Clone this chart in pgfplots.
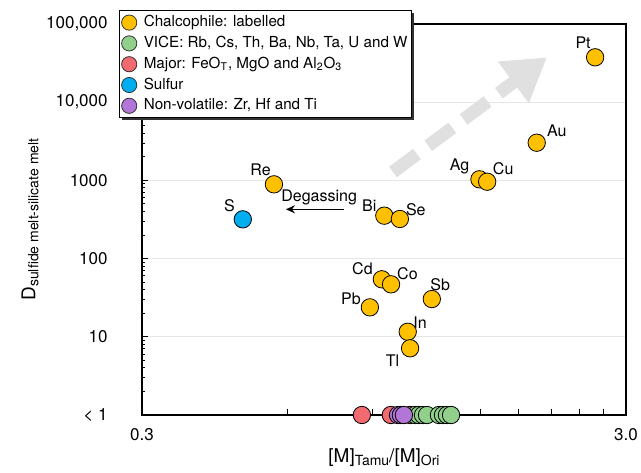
\documentclass[border=0pt]{standalone}
\usepackage{fontspec}
\setmainfont{TeX Gyre Heros}
\usepackage{pgfplots}
\pgfplotsset{compat=1.18}
\usetikzlibrary{arrows.meta,shadows}
\definecolor{chalco}{HTML}{FFC000}
\definecolor{vice}{HTML}{90D08A}
\definecolor{major}{HTML}{F06A70}
\definecolor{sulfur}{HTML}{00AEEF}
\definecolor{nonvol}{HTML}{B276D6}
\definecolor{arrowgray}{HTML}{E0E0E0}
\definecolor{gridgray}{HTML}{E6E6E6}
\newcommand\lsub[1]{\raisebox{-0.3ex}{\fontsize{7}{8}\selectfont #1}}
\begin{document}
\begin{tikzpicture}
\path[use as bounding box] (-71pt,-28.5pt) rectangle (249.5pt,207.5pt);
\begin{axis}[
  at={(0,0)}, anchor=south west, scale only axis,
  width=242pt, height=195.5pt,
  xmode=log, ymode=log,
  xmin=0.3, xmax=3, ymin=1, ymax=100000,
  clip=false,
  axis line style={line width=1pt},
  xtick={0.3,0.6,0.9,1.2,1.5,1.8,2.1,2.4,2.7,3},
  xticklabels={0.3,{},{},{},{},{},{},{},{},3.0},
  xminorticks=false,
  ytick={1,10,100,1000,10000,100000},
  yticklabels={{\textless{} 1},10,100,1000,{10,000},{100,000}},
  minor ytick={2,3,4,5,6,7,8,9,20,30,40,50,60,70,80,90,200,300,400,500,600,700,800,900,2000,3000,4000,5000,6000,7000,8000,9000,20000,30000,40000,50000,60000,70000,80000,90000},
  tick align=inside,
  xtick pos=lower, ytick pos=left,
  major tick length=3pt, minor tick length=1.7pt,
  tick style={line width=0.5pt, black},
  ymajorgrids, grid style={gridgray, line width=0.4pt},
  /pgf/number format/assume math mode=true,
  every tick label/.append style={font=\fontsize{8.5}{10}\selectfont},
  yticklabel style={inner sep=0pt, anchor=east, xshift=-17pt},
  xticklabel style={inner sep=0pt, anchor=north, yshift=-6.5pt},
  label style={font=\fontsize{9.5}{11}\selectfont},
  xlabel={[M]\lsub{Tamu}/[M]\lsub{Ori}},
  xlabel style={at={(axis description cs:0.5,0)}, anchor=center, yshift=-21.5pt},
  ylabel={D\lsub{sulfide melt-silicate melt}},
  ylabel style={at={(axis description cs:0,0.5)}, anchor=center, yshift=56pt},
  legend cell align=left,
  legend style={at={(-0.0475,1.0358)}, anchor=north west,
    font=\fontsize{7.6}{8.5}\selectfont,
    draw=black, line width=0.6pt, fill=white,
    drop shadow={shadow xshift=1.2pt, shadow yshift=-1.2pt, fill=black!80, opacity=1},
    inner xsep=1pt, inner ysep=1.5pt, row sep=1.4pt, column sep=2.5pt,
    nodes={inner sep=1pt, text height=5.5pt, text depth=1.5pt}},
  every legend image post/.append style={mark size=3.8pt},
  mark options={line width=0.4pt, draw=black!80},
]
% legend images in legend order
\addlegendimage{only marks, mark=*, mark options={fill=chalco, draw=black!80, line width=0.4pt}}
\addlegendentry{Chalcophile: labelled}
\addlegendimage{only marks, mark=*, mark options={fill=vice, draw=black!80, line width=0.4pt}}
\addlegendentry{VICE: Rb, Cs, Th, Ba, Nb, Ta, U and W}
\addlegendimage{only marks, mark=*, mark options={fill=major, draw=black!80, line width=0.4pt}}
\addlegendentry{Major: FeO\textsubscript{T}, MgO and Al\textsubscript{2}O\textsubscript{3}}
\addlegendimage{only marks, mark=*, mark options={fill=sulfur, draw=black!80, line width=0.4pt}}
\addlegendentry{Sulfur}
\addlegendimage{only marks, mark=*, mark options={fill=nonvol, draw=black!80, line width=0.4pt}}
\addlegendentry{Non-volatile: Zr, Hf and Ti}

% gray trend arrow
\draw[arrowgray, line width=6.5pt, dash pattern=on 15pt off 7pt,
  -{Triangle[length=21pt, width=24.5pt]}]
  (axis cs:0.99,1280) -- (axis cs:2.06,37500);

% degassing arrow
\draw[black, line width=0.7pt, -{Stealth[length=4.5pt, width=4pt]}]
  (axis cs:0.785,427) -- (axis cs:0.595,427);
\node[font=\fontsize{8}{9}\selectfont] at (axis cs:0.697,608) {Degassing};

% Major
\addplot[only marks, mark=*, mark size=4.35pt, mark options={fill=major}, forget plot]
 coordinates {(0.854,1) (0.98,1) (1.074,1)};
% VICE
\addplot[only marks, mark=*, mark size=4.35pt, mark options={fill=vice}, forget plot]
 coordinates {(1.10,1) (1.120,1) (1.142,1) (1.164,1) (1.232,1) (1.256,1) (1.280,1) (1.305,1)};
% Chalcophile
\addplot[only marks, mark=*, mark size=4.35pt, mark options={fill=chalco}, forget plot]
 coordinates {(2.59,37500) (1.962,3034) (1.494,1033) (1.55,962) (0.562,891)
   (0.950,354) (1.023,321) (0.939,54.4) (0.981,46.9) (0.887,23.8)
   (1.191,30.4) (1.062,11.6) (1.074,7.13)};
% Sulfur
\addplot[only marks, mark=*, mark size=4.35pt, mark options={fill=sulfur}, forget plot]
 coordinates {(0.4846,318)};
% Non-volatile
\addplot[only marks, mark=*, mark size=4.35pt, mark options={fill=nonvol}, forget plot]
 coordinates {(1.014,1) (1.028,1) (1.043,1)};

% point labels
\begin{scope}[every node/.style={font=\fontsize{8}{9}\selectfont, inner sep=0pt}]
\node[xshift=-6pt, yshift=7.3pt] at (axis cs:2.59,37500) {Pt};
\node[xshift=10pt, yshift=6pt] at (axis cs:1.962,3034) {Au};
\node[xshift=-10pt, yshift=6.3pt] at (axis cs:1.494,1033) {Ag};
\node[xshift=8pt, yshift=6.3pt] at (axis cs:1.55,962) {Cu};
\node[xshift=-6.7pt, yshift=7.5pt] at (axis cs:0.562,891) {Re};
\node[xshift=-6.7pt, yshift=6.7pt] at (axis cs:0.4846,318) {S};
\node[xshift=-7.5pt, yshift=4.8pt] at (axis cs:0.950,354) {Bi};
\node[xshift=8pt, yshift=4.5pt] at (axis cs:1.023,321) {Se};
\node[xshift=-9.7pt, yshift=5.5pt] at (axis cs:0.939,54.4) {Cd};
\node[xshift=8.2pt, yshift=5.2pt] at (axis cs:0.981,46.9) {Co};
\node[xshift=-9.5pt, yshift=4.2pt] at (axis cs:0.887,23.8) {Pb};
\node[xshift=4.2pt, yshift=7pt] at (axis cs:1.191,30.4) {Sb};
\node[xshift=6.2pt, yshift=4.7pt] at (axis cs:1.062,11.6) {In};
\node[xshift=-8.8pt, yshift=-6.2pt] at (axis cs:1.074,7.13) {Tl};
\end{scope}
\end{axis}
\end{tikzpicture}
\end{document}
